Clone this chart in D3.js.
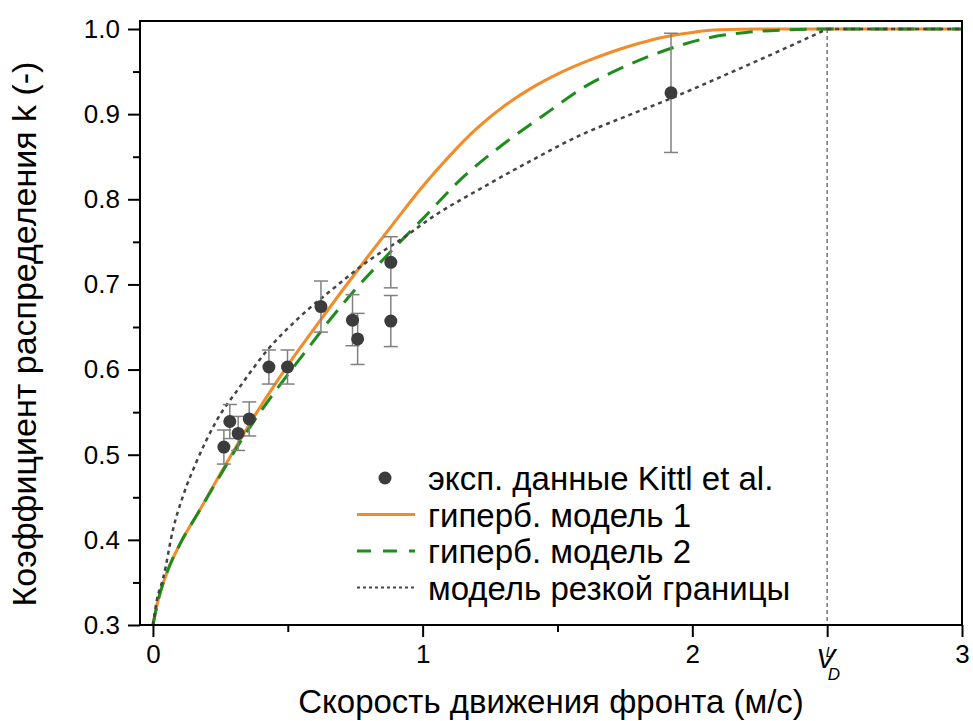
<!DOCTYPE html>
<html>
<head>
<meta charset="utf-8">
<script src="https://cdn.jsdelivr.net/npm/d3@7"></script>
<style>
  body { margin: 0; background: #fff; }
  text { font-family: "Liberation Sans", Arial, sans-serif; fill: #000; }
</style>
</head>
<body>
<div id="chart"></div>
<script>
// Experimental data (Kittl et al.)
const expV = [0.263, 0.285, 0.316, 0.357, 0.430, 0.499, 0.623, 0.740, 0.759, 0.882, 0.882, 1.921];
const expK = [0.509, 0.539, 0.525, 0.542, 0.603, 0.603, 0.674, 0.658, 0.636, 0.657, 0.726, 0.925];
const expErr = [0.020, 0.020, 0.020, 0.020, 0.020, 0.020, 0.030, 0.030, 0.030, 0.030, 0.030, 0.070];

// Hyperbolic model 1
const model1V = [0, 0.02, 0.05, 0.1, 0.17, 0.236, 0.3, 0.36, 0.42, 0.5, 0.6, 0.7, 0.8, 0.9, 1.0, 1.1, 1.2, 1.3, 1.4, 1.5, 1.6, 1.7, 1.8, 1.9, 2.0, 2.1, 2.25, 3.0];
const model1K = [0.3, 0.33, 0.36, 0.395, 0.433, 0.470, 0.505, 0.537, 0.567, 0.605, 0.649, 0.692, 0.734, 0.775, 0.815, 0.851, 0.883, 0.909, 0.930, 0.947, 0.961, 0.973, 0.983, 0.991, 0.996, 0.999, 1.0, 1.0];

// Hyperbolic model 2
const model2V = [0, 0.02, 0.05, 0.1, 0.17, 0.25, 0.32, 0.4, 0.49, 0.58, 0.66, 0.75, 0.88, 1.0, 1.15, 1.3, 1.45, 1.6, 1.75, 1.9, 2.05, 2.2, 2.35, 2.5, 3.0];
const model2K = [0.3, 0.33, 0.36, 0.395, 0.433, 0.476, 0.513, 0.551, 0.590, 0.627, 0.660, 0.694, 0.738, 0.777, 0.826, 0.865, 0.899, 0.932, 0.956, 0.975, 0.989, 0.996, 0.999, 1.0, 1.0];

// Sharp interface model
const sharpV = [0, 0.015, 0.038, 0.075, 0.112, 0.162, 0.236, 0.323, 0.422, 0.545, 0.668, 0.8, 0.916, 1.05, 1.212, 1.4, 1.583, 1.75, 1.917, 2.1, 2.3, 2.5, 3.0];
const sharpK = [0.3, 0.33, 0.355, 0.413, 0.452, 0.492, 0.540, 0.580, 0.622, 0.662, 0.695, 0.728, 0.752, 0.782, 0.812, 0.845, 0.875, 0.897, 0.918, 0.943, 0.971, 1.0, 1.0];

const vD = 2.5;
const xTicks = [0, 1, 2, 3];
const xMinorTicks = [0.5, 1.5];
const yTicks = [0.3, 0.4, 0.5, 0.6, 0.7, 0.8, 0.9, 1.0];
const yMinorTicks = [0.35, 0.45, 0.55, 0.65, 0.75, 0.85, 0.95];

const legendLabels = ["эксп. данные Kittl et al.", "гиперб. модель 1", "гиперб. модель 2", "модель резкой границы"];

const width = 973, height = 721;
const margin = { top: 21, right: 11, bottom: 96, left: 140 };

const svg = d3.select("#chart").append("svg")
  .attr("width", width)
  .attr("height", height);

const x = d3.scaleLinear().domain([-0.048, 3]).range([margin.left, width - margin.right]);
const y = d3.scaleLinear().domain([0.3, 1.0094]).range([height - margin.bottom, margin.top]);

// axes: major and minor ticks, outward
const xAxis = d3.axisBottom(x).tickValues(xTicks).tickSize(12).tickSizeOuter(0).tickPadding(8).tickFormat(d3.format("d"));
const xMinor = d3.axisBottom(x).tickValues(xMinorTicks).tickSize(7).tickSizeOuter(0).tickFormat("");
const yAxis = d3.axisLeft(y).tickValues(yTicks).tickSize(12).tickSizeOuter(0).tickPadding(8).tickFormat(d3.format(".1f"));
const yMinor = d3.axisLeft(y).tickValues(yMinorTicks).tickSize(7).tickSizeOuter(0).tickFormat("");

function styleAxis(g) {
  g.select(".domain").remove();
  g.selectAll("line").attr("stroke", "#000").attr("stroke-width", 2);
  g.selectAll("text").attr("font-size", 26).attr("font-family", "Liberation Sans, Arial, sans-serif").attr("fill", "#000");
}

const x0 = height - margin.bottom;
svg.append("g").attr("transform", `translate(0,${x0})`).call(xMinor).call(styleAxis);
svg.append("g").attr("transform", `translate(0,${x0})`).call(xAxis).call(styleAxis);
// V_D tick is a major one, label drawn by hand below
svg.append("g").attr("transform", `translate(0,${x0})`)
  .call(d3.axisBottom(x).tickValues([vD]).tickSize(12).tickSizeOuter(0).tickFormat(""))
  .call(styleAxis);
svg.append("g").attr("transform", `translate(${margin.left},0)`).call(yMinor).call(styleAxis);
svg.append("g").attr("transform", `translate(${margin.left},0)`).call(yAxis).call(styleAxis);

// V_D^L label
const vdLabel = svg.append("text")
  .attr("x", x(vD) - 11)
  .attr("y", x0 + 43)
  .attr("font-size", 28)
  .attr("text-anchor", "start");
vdLabel.append("tspan").attr("font-style", "italic").text("V");
vdLabel.append("tspan").attr("font-size", 14).attr("font-style", "italic").attr("dx", -9).attr("dy", -11).text("L");
vdLabel.append("tspan").attr("font-size", 17).attr("font-style", "italic").attr("dx", -6).attr("dy", 23).text("D");

// vertical line at V_D
svg.append("line")
  .attr("x1", x(vD)).attr("x2", x(vD))
  .attr("y1", y(1.0)).attr("y2", x0)
  .attr("stroke", "#777").attr("stroke-width", 1.5)
  .attr("stroke-dasharray", "4,3");

// curves
const line = d3.line().x(d => x(d[0])).y(d => y(d[1])).curve(d3.curveMonotoneX);
const straight = d3.line().x(d => x(d[0])).y(d => y(d[1]));
const sharpData = sharpV.map((v, i) => [v, sharpK[i]]);
const model2Data = model2V.map((v, i) => [v, model2K[i]]);
const model1Data = model1V.map((v, i) => [v, model1K[i]]);

const styles = [
  { color: "#f28c28", width: 3, dash: null },
  { color: "#1e8c1e", width: 3, dash: "17,10" },
  { color: "#444", width: 2.5, dash: "4,4" }
];

svg.append("path").datum(model1Data)
  .attr("fill", "none").attr("stroke", styles[0].color).attr("stroke-width", styles[0].width)
  .attr("d", line);
svg.append("path").datum(model2Data)
  .attr("fill", "none").attr("stroke", styles[1].color).attr("stroke-width", styles[1].width)
  .attr("stroke-dasharray", styles[1].dash)
  .attr("d", line);
// sharp model has a corner at V_D: curved part then flat part
svg.append("path").datum(sharpData.filter(d => d[0] <= vD))
  .attr("fill", "none").attr("stroke", styles[2].color).attr("stroke-width", styles[2].width)
  .attr("stroke-dasharray", styles[2].dash)
  .attr("d", line);
svg.append("path").datum(sharpData.filter(d => d[0] >= vD))
  .attr("fill", "none").attr("stroke", styles[2].color).attr("stroke-width", styles[2].width)
  .attr("stroke-dasharray", styles[2].dash)
  .attr("d", straight);

// experimental points with error bars
const pts = expV.map((v, i) => ({ v: v, k: expK[i], e: expErr[i] }));
const eb = svg.append("g").attr("stroke", "#808080").attr("stroke-width", 1.5);
eb.selectAll(".bar").data(pts).enter().append("line")
  .attr("x1", d => x(d.v)).attr("x2", d => x(d.v))
  .attr("y1", d => y(d.k - d.e)).attr("y2", d => y(d.k + d.e));
eb.selectAll(".capTop").data(pts).enter().append("line")
  .attr("x1", d => x(d.v) - 7).attr("x2", d => x(d.v) + 7)
  .attr("y1", d => y(d.k + d.e)).attr("y2", d => y(d.k + d.e));
eb.selectAll(".capBot").data(pts).enter().append("line")
  .attr("x1", d => x(d.v) - 7).attr("x2", d => x(d.v) + 7)
  .attr("y1", d => y(d.k - d.e)).attr("y2", d => y(d.k - d.e));
svg.selectAll(".pt").data(pts).enter().append("circle")
  .attr("cx", d => x(d.v)).attr("cy", d => y(d.k))
  .attr("r", 6.5).attr("fill", "#3c3c3c");

// frame
svg.append("rect")
  .attr("x", margin.left).attr("y", margin.top)
  .attr("width", width - margin.right - margin.left)
  .attr("height", height - margin.bottom - margin.top)
  .attr("fill", "none").attr("stroke", "#000").attr("stroke-width", 2);

// axis titles
svg.append("text")
  .attr("x", (margin.left + width - margin.right) / 2)
  .attr("y", 713)
  .attr("text-anchor", "middle")
  .attr("font-size", 33)
  .text("Скорость движения фронта (м/с)");

svg.append("text")
  .attr("transform", `translate(36,334) rotate(-90)`)
  .attr("text-anchor", "middle")
  .attr("font-size", 34)
  .text("Коэффициент распределения k (-)");

// legend
const legend = svg.append("g").attr("transform", "translate(357,478)");
const rowH = 36.5;
legendLabels.forEach((lbl, i) => {
  const row = legend.append("g").attr("transform", `translate(0,${i * rowH})`);
  if (i === 0) {
    row.append("circle").attr("cx", 28).attr("cy", 0).attr("r", 6.5).attr("fill", "#3c3c3c");
  } else {
    const s = styles[i - 1];
    row.append("line").attr("x1", 0).attr("x2", 58).attr("y1", 0).attr("y2", 0)
      .attr("stroke", s.color).attr("stroke-width", i === 3 ? 2 : s.width)
      .attr("stroke-dasharray", i === 2 ? "14,12" : (i === 3 ? "3,3" : null));
  }
  row.append("text").attr("x", 71).attr("y", 12).attr("font-size", 33).text(lbl);
});
</script>
</body>
</html>
